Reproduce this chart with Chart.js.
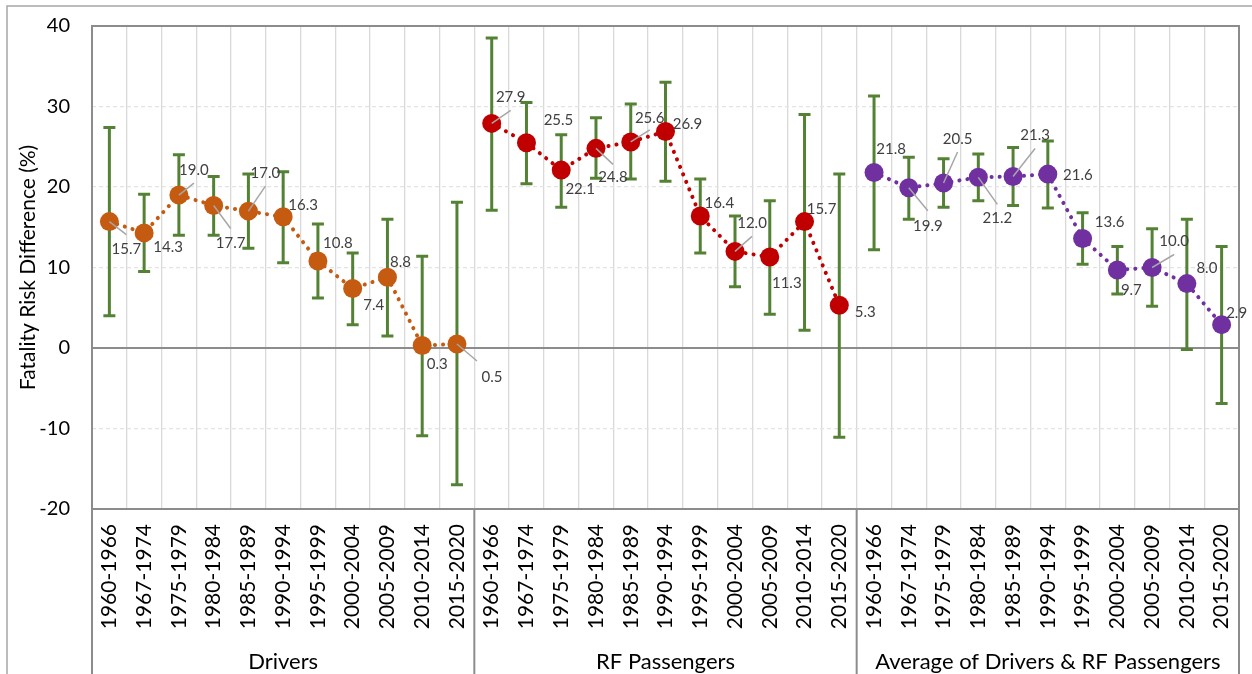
<!DOCTYPE html>
<html>
<head>
<meta charset="utf-8">
<script src="https://cdn.jsdelivr.net/npm/chart.js@4.4.1/dist/chart.umd.min.js"></script>
<style>
  body { margin: 0; background: #fff; }
  #wrap { width: 1252px; height: 674px; position: relative; }
</style>
</head>
<body>
<div id="wrap"><canvas id="riskChart"></canvas></div>
<script>
Chart.defaults.font.family = 'Lato, "Open Sans", sans-serif';

// periods on the category axis, repeated for each group
let periods = ['1960-1966', '1967-1974', '1975-1979', '1980-1984', '1985-1989', '1990-1994',
    '1995-1999', '2000-2004', '2005-2009', '2010-2014', '2015-2020'];
let groups = ['Drivers', 'RF Passengers', 'Average of Drivers & RF Passengers'];

// fatality risk difference (%) and the ends of the error bars
let drivers     = [15.7, 14.3, 19.0, 17.7, 17.0, 16.3, 10.8, 7.4, 8.8, 0.3, 0.5];
let driversLow  = [4.0, 9.5, 14.0, 14.0, 12.4, 10.6, 6.2, 2.9, 1.5, -10.9, -17.0];
let driversHigh = [27.4, 19.1, 24.0, 21.3, 21.6, 21.9, 15.4, 11.8, 16.0, 11.4, 18.1];

let rfPass     = [27.9, 25.5, 22.1, 24.8, 25.6, 26.9, 16.4, 12.0, 11.3, 15.7, 5.3];
let rfPassLow  = [17.1, 20.4, 17.5, 21.1, 21.0, 20.7, 11.8, 7.6, 4.2, 2.2, -11.1];
let rfPassHigh = [38.5, 30.5, 26.5, 28.6, 30.3, 33.0, 21.0, 16.4, 18.3, 29.0, 21.6];

let average     = [21.8, 19.9, 20.5, 21.2, 21.3, 21.6, 13.6, 9.7, 10.0, 8.0, 2.9];
let averageLow  = [12.2, 16.0, 17.5, 18.3, 17.7, 17.4, 10.4, 6.7, 5.2, -0.2, -6.9];
let averageHigh = [31.3, 23.7, 23.5, 24.1, 24.9, 25.7, 16.8, 12.6, 14.8, 16.0, 12.6];

let yTicks = [-20, -10, 0, 10, 20, 30, 40];

// label placement (px from the marker) and optional leader line end
let labelPos = [
    [[17,28,17,13],[24,14],[15,-25,15,-12],[17,38,17,23],[17,-38,17,-25],[20,-12],[20,-18],[21,17],[13,-15],[15,19],[35,33,20,17]],
    [[19,-26,19,-13],[32,-23],[19,19],[17,29,17,16],[19,-24,19,-12],[22,-7],[19,-13],[17,-28,17,-15],[17,26],[17,-12],[26,7]],
    [[17,-23],[19,38,19,23],[14,-44,14,-31],[19,41,19,27],[22,-41,22,-28],[30,1],[27,-16],[14,20],[22,-26,22,-13],[20,-15],[15,-11]]
];

let n = periods.length;
let labels = groups.flatMap(() => periods);

function place(values, g) {
    let arr = new Array(n * groups.length).fill(null);
    values.forEach((v, i) => { arr[g * n + i] = v; });
    return arr;
}

let series = [
    { vals: drivers, low: driversLow, high: driversHigh, color: '#C55A11' },
    { vals: rfPass, low: rfPassLow, high: rfPassHigh, color: '#C00000' },
    { vals: average, low: averageLow, high: averageHigh, color: '#7030A0' }
];

let datasets = series.map((s, g) => ({
    data: place(s.vals, g),
    borderColor: s.color,
    backgroundColor: s.color,
    borderWidth: 4,
    borderDash: [0.1, 8],
    borderCapStyle: 'round',
    pointRadius: 9.5,
    pointBorderWidth: 0,
    pointBackgroundColor: s.color,
    spanGaps: false,
    tension: 0
}));

const framePlugin = {
    id: 'frame',
    beforeDatasetsDraw(chart) {
        const ctx = chart.ctx;
        const a = chart.chartArea;
        const y = chart.scales.y;
        ctx.save();
        // outer chart border
        ctx.strokeStyle = '#a6a6a6';
        ctx.lineWidth = 1.5;
        ctx.beginPath();
        ctx.moveTo(7, 674); ctx.lineTo(7, 6); ctx.lineTo(1252, 6);
        ctx.stroke();
        // zero line
        ctx.strokeStyle = '#8c8c8c';
        ctx.lineWidth = 2;
        ctx.beginPath();
        ctx.moveTo(a.left, y.getPixelForValue(0));
        ctx.lineTo(a.right, y.getPixelForValue(0));
        ctx.stroke();
        // plot border
        ctx.strokeRect(a.left, a.top, a.right - a.left, a.bottom - a.top);
        // group separators below the plot
        const x = chart.scales.x;
        const step = (a.right - a.left) / labels.length;
        for (let g = 0; g <= groups.length; g++) {
            const gx = a.left + g * n * step;
            ctx.beginPath();
            ctx.moveTo(gx, a.bottom);
            ctx.lineTo(gx, chart.height);
            ctx.stroke();
        }
        ctx.fillStyle = '#000';
        ctx.font = '22px Lato';
        ctx.textAlign = 'center';
        ctx.textBaseline = 'middle';
        groups.forEach((name, g) => {
            const cx = (x.getPixelForValue(g * n) + x.getPixelForValue(g * n + n - 1)) / 2;
            ctx.fillText(name, cx, 662);
        });
        // error bars
        ctx.strokeStyle = '#548235';
        ctx.lineWidth = 3;
        series.forEach((s, g) => {
            s.vals.forEach((v, i) => {
                const px = x.getPixelForValue(g * n + i);
                const lo = y.getPixelForValue(s.low[i]);
                const hi = y.getPixelForValue(s.high[i]);
                ctx.beginPath();
                ctx.moveTo(px, lo); ctx.lineTo(px, hi);
                ctx.moveTo(px - 6, lo); ctx.lineTo(px + 6, lo);
                ctx.moveTo(px - 6, hi); ctx.lineTo(px + 6, hi);
                ctx.stroke();
            });
        });
        ctx.restore();
    }
};

const labelPlugin = {
    id: 'valueLabels',
    afterDatasetsDraw(chart) {
        const ctx = chart.ctx;
        const x = chart.scales.x;
        const y = chart.scales.y;
        ctx.save();
        ctx.font = '15px Lato';
        ctx.fillStyle = '#404040';
        ctx.textAlign = 'center';
        ctx.textBaseline = 'middle';
        series.forEach((s, g) => {
            s.vals.forEach((v, i) => {
                const px = x.getPixelForValue(g * n + i);
                const py = y.getPixelForValue(v);
                const p = labelPos[g][i];
                if (p.length > 2) {
                    ctx.strokeStyle = '#a6a6a6';
                    ctx.lineWidth = 1.5;
                    ctx.beginPath();
                    ctx.moveTo(px, py);
                    ctx.lineTo(px + p[2], py + p[3]);
                    ctx.stroke();
                }
                ctx.fillText(v.toFixed(1), px + p[0], py + p[1]);
            });
        });
        ctx.restore();
    }
};

let chart = new Chart(document.getElementById('riskChart').getContext('2d'), {
    type: 'line',
    data: { labels: labels, datasets: datasets },
    options: {
        responsive: true,
        maintainAspectRatio: false,
        animation: false,
        layout: { padding: { top: 26, right: 13, left: 0, bottom: 0 } },
        plugins: { legend: { display: false }, tooltip: { enabled: false } },
        scales: {
            x: {
                type: 'category',
                offset: true,
                grid: { offset: true, color: '#d9d9d9', lineWidth: 1.3, drawTicks: false },
                border: { display: false },
                ticks: {
                    autoSkip: false, minRotation: 90, maxRotation: 90,
                    padding: 15, color: '#000', font: { size: 21 }
                },
                afterFit(scale) {
                    scale.height = 165;
                    scale.paddingLeft = 0;
                    scale.paddingRight = 0;
                }
            },
            y: {
                min: -20,
                max: 40,
                afterBuildTicks(scale) { scale.ticks = yTicks.map(v => ({ value: v })); },
                grid: {
                    drawTicks: false,
                    color: ctx => ctx.tick && ctx.tick.value === 0 ? 'rgba(0,0,0,0)' : '#e3e3e3',
                    lineWidth: 1.2
                },
                border: { display: false, dash: [4, 3] },
                ticks: { padding: 22, color: '#000', font: { size: 20 } },
                title: {
                    display: true,
                    text: 'Fatality Risk Difference (%)',
                    color: '#000',
                    font: { size: 21 },
                    padding: { top: 16, bottom: 0 }
                },
                afterFit(scale) {
                    scale.width = 92;
                    scale.paddingTop = 0;
                    scale.paddingBottom = 0;
                }
            }
        }
    },
    plugins: [framePlugin, labelPlugin]
});
</script>
</body>
</html>
